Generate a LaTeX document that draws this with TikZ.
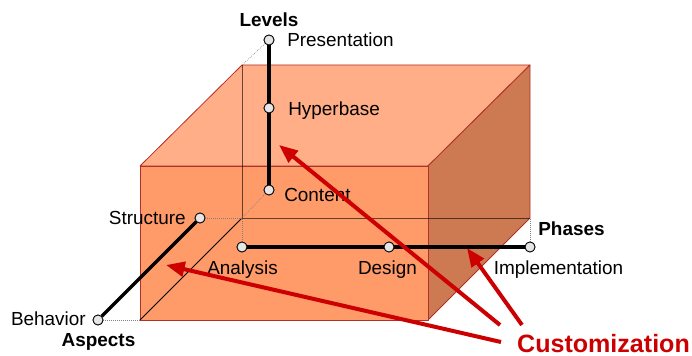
\documentclass[tikz,border=0pt]{standalone}
\usepackage{fontspec}
\setmainfont{Liberation Sans}
\usetikzlibrary{arrows.meta}

\definecolor{topside}{HTML}{FFAE87}
\definecolor{frontside}{HTML}{FF9A69}
\definecolor{rightside}{HTML}{CD7A52}
\definecolor{cubeedge}{HTML}{B0302A}
\definecolor{custred}{HTML}{CC0000}
\definecolor{dotfill}{HTML}{E6E6E6}

\begin{document}
\begin{tikzpicture}[x=0.75pt,y=-0.75pt,>={Triangle[length=14pt,width=11pt]},
  every node/.style={inner sep=0pt,font=\fontsize{14.2}{16}\selectfont},
  face/.style={draw=cubeedge,line width=0.6pt,line join=round},
  hidden/.style={black,opacity=0.6,line width=0.6pt},
  guide/.style={gray,densely dotted,line width=0.5pt},
  axis/.style={line width=2.5pt},
  point/.style={circle,draw,line width=0.6pt,fill=dotfill,minimum size=7.5pt},
  axisname/.style={font=\fontsize{14.2}{16}\selectfont\bfseries},
  custom/.style={custred,line width=3pt,->}]
  \useasboundingbox (0,0) rectangle (692,356);

  % The corners of the cube
  \coordinate (ftl) at (140,166);
  \coordinate (ftr) at (428,166);
  \coordinate (fbl) at (140,320);
  \coordinate (fbr) at (428,320);
  \coordinate (btl) at (242,65);
  \coordinate (btr) at (530,65);
  \coordinate (bbl) at (242,218);
  \coordinate (bbr) at (530,218);

  % The faces
  \filldraw[face,fill=topside] (ftl) -- (ftr) -- (btr) -- (btl) -- cycle;
  \filldraw[face,fill=rightside] (ftr) -- (btr) -- (bbr) -- (fbr) -- cycle;
  \filldraw[face,fill=frontside] (ftl) -- (ftr) -- (fbr) -- (fbl) -- cycle;

  % The hidden edges
  \draw[hidden] (btl) -- (bbl) -- (bbr);
  \draw[black,line width=0.6pt] (bbl) -- (fbl);

  % The points on the three axes
  \node[point] (pres) at (269,40) {};
  \node[point] (hyper) at (269,108) {};
  \node[point] (cont) at (269,190) {};
  \node[point] (struc) at (200,218) {};
  \node[point] (behav) at (98,320) {};
  \node[point] (anal) at (242,247) {};
  \node[point] (desg) at (389,247) {};
  \node[point] (impl) at (530,247) {};

  % Dotted lines to the corners
  \draw[guide] (pres) -- (btl);
  \draw[guide] (cont) -- (bbl);
  \draw[guide] (struc) -- (bbl);
  \draw[guide] (behav) -- (fbl);
  \draw[guide] (anal) -- (bbl);
  \draw[guide] (impl) -- (bbr);

  % The axes
  \draw[axis] (pres) -- (hyper) -- (cont);
  \draw[axis] (struc) -- (behav);
  \draw[axis] (anal) -- (desg) -- (impl);
  \foreach \pt in {pres,hyper,cont,struc,behav,anal,desg,impl}
    \node[point] at (\pt) {};

  % The labels
  \node[axisname,anchor=base] (levels) at (269,26.5) {Levels};
  \node[anchor=base west] (lpres) at (287,47) {Presentation};
  \node[anchor=base west] (lhyper) at (288,115.5) {Hyperbase};
  \node[anchor=base west] (lcont) at (284,201) {Content};
  \node[anchor=base east] (lstruc) at (186,224.5) {Structure};
  \node[anchor=base east] (lbehav) at (86,325.5) {Behavior};
  \node[axisname,anchor=base] (aspects) at (98.5,346) {Aspects};
  \node[anchor=base] (lanal) at (242.5,274.5) {Analysis};
  \node[anchor=base] (ldesg) at (387.5,274.5) {Design};
  \node[anchor=base] (limpl) at (558.5,274.5) {Implementation};
  \node[axisname,anchor=base] (phases) at (571.5,235.5) {Phases};

  % Customization arrows
  \coordinate (c1) at (501,342);
  \coordinate (c2) at (500,325);
  \coordinate (c3) at (522,325);
  \coordinate (t1) at (166,265);
  \coordinate (t2) at (279,145);
  \coordinate (t3) at (467,248);
  \draw[custom] (c1) -- (t1);
  \draw[custom] (c2) -- (t2);
  \draw[custom] (c3) -- (t3);
  \node[anchor=base,custred,font=\fontsize{18.8}{22}\selectfont\bfseries] (cust) at (603.5,352) {Customization};
\end{tikzpicture}
\end{document}
